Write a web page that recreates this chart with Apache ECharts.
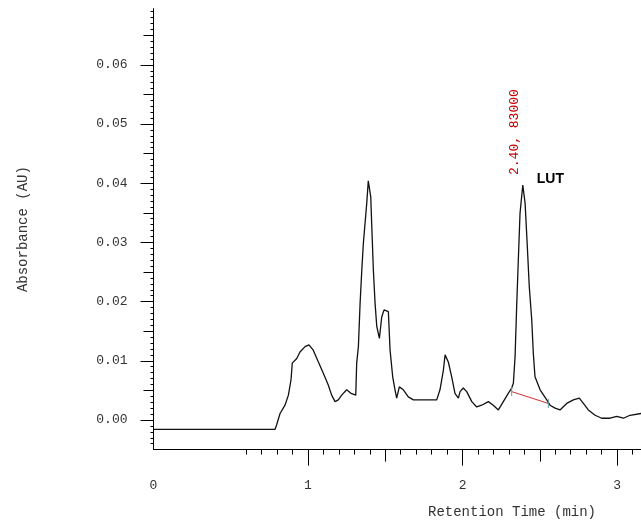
<!DOCTYPE html>
<html>
<head>
    <meta charset="utf-8">
    <title>Chromatogram</title>
    <script src="https://cdn.jsdelivr.net/npm/echarts@6/dist/echarts.min.js"></script>
    <style>
        html, body { margin: 0; padding: 0; background: #fff; }
    </style>
</head>
<body>
    <div id="main" style="width: 641px;height:522px;"></div>
    <script type="text/javascript">
        // retention time (min) and absorbance (AU)
        var retTime = [0, 0.786, 0.797, 0.819, 0.851, 0.873, 0.890, 0.898, 0.927, 0.948, 0.981, 1.006,
            1.034, 1.067, 1.099, 1.131, 1.153, 1.175, 1.196, 1.218, 1.250, 1.278, 1.309, 1.315, 1.326,
            1.337, 1.348, 1.358, 1.369, 1.380, 1.390, 1.406, 1.412, 1.423, 1.434, 1.445, 1.462, 1.477,
            1.492, 1.520, 1.531, 1.548, 1.563, 1.574, 1.591, 1.617, 1.649, 1.682, 1.833, 1.854, 1.876,
            1.887, 1.908, 1.930, 1.951, 1.973, 1.984, 2.005, 2.027, 2.060, 2.092, 2.124, 2.167, 2.199,
            2.232, 2.264, 2.296, 2.318, 2.329, 2.340, 2.351, 2.361, 2.372, 2.390, 2.405, 2.416, 2.432,
            2.448, 2.458, 2.469, 2.502, 2.545, 2.566, 2.599, 2.631, 2.674, 2.717, 2.756, 2.782, 2.814,
            2.858, 2.901, 2.955, 2.998, 3.041, 3.084, 3.155];
        var absorbance = [-0.0016, -0.0016, -0.0008, 0.0011, 0.0025, 0.0042, 0.0068, 0.0096, 0.0104, 0.0115, 0.0124, 0.0127,
            0.0118, 0.0098, 0.0079, 0.0059, 0.0042, 0.0031, 0.0034, 0.0042, 0.0051, 0.0045, 0.0042, 0.0096, 0.0124,
            0.0197, 0.0253, 0.0298, 0.0332, 0.0366, 0.0404, 0.0377, 0.0332, 0.0253, 0.0197, 0.0158, 0.0138, 0.0174,
            0.0186, 0.0183, 0.0118, 0.0073, 0.0051, 0.0037, 0.0056, 0.0051, 0.0039, 0.0034, 0.0034, 0.0051, 0.0084,
            0.0110, 0.0098, 0.0073, 0.0045, 0.0037, 0.0048, 0.0054, 0.0048, 0.0031, 0.0022, 0.0025, 0.0031, 0.0025,
            0.0017, 0.0031, 0.0045, 0.0054, 0.0062, 0.0107, 0.0197, 0.0270, 0.0349, 0.0397, 0.0366, 0.0310, 0.0225,
            0.0169, 0.0113, 0.0073, 0.0051, 0.0034, 0.0025, 0.0020, 0.0017, 0.0028, 0.0034, 0.0037, 0.0028, 0.0017,
            0.0008, 0.0003, 0.0003, 0.0006, 0.0003, 0.0008, 0.0011];

        // integration baseline under the LUT peak
        var baseTime = [2.318, 2.555];
        var baseAbs = [0.0048, 0.0028];

        var peakTime = 2.39;
        var peakAbs = 0.0397;
        var peakText = '2.40, 83000';
        var peakName = 'LUT';

        // axis ticks
        var xLabels = [0, 1, 2, 3];
        var xMajor = [1, 2, 3];
        var xHalf = [1.5, 2.5];
        var xMinor = [0.6, 0.7, 0.8, 0.9, 1.1, 1.2, 1.3, 1.4, 1.6, 1.7, 1.8, 1.9,
            2.1, 2.2, 2.3, 2.4, 2.6, 2.7, 2.8, 2.9, 3.1];
        var yLabels = [0, 0.01, 0.02, 0.03, 0.04, 0.05, 0.06];
        var yHalf = [0.005, 0.015, 0.025, 0.035, 0.045, 0.055, 0.065];
        var yMinor = [];
        for (var i = -4; i <= 69; i++) {
            if (i % 5 !== 0) yMinor.push(i / 1000);
        }

        var X_MIN = 0, X_MAX = 3.155, Y_MIN = -0.005, Y_MAX = 0.0695;
        var mono = 'Liberation Mono';

        var trace = retTime.map(function (t, k) { return [t, absorbance[k]]; });
        var base = baseTime.map(function (t, k) { return [t, baseAbs[k]]; });

        function xAx(ticks, len, labels) {
            return {
                type: 'value', min: X_MIN, max: X_MAX, position: 'bottom',
                axisLine: { show: !!labels, onZero: false, lineStyle: { color: '#000', width: 1 } },
                axisTick: { show: true, customValues: ticks, length: len, lineStyle: { color: '#000', width: 1 } },
                axisLabel: labels ? {
                    show: true, customValues: labels, margin: 29,
                    fontFamily: mono, fontSize: 13, color: '#333',
                    formatter: function (v) { return String(v); }
                } : { show: false },
                splitLine: { show: false }
            };
        }

        function yAx(ticks, len, labels) {
            var ax = {
                type: 'value', min: Y_MIN, max: Y_MAX, position: 'left',
                axisLine: { show: !!labels, onZero: false, lineStyle: { color: '#000', width: 1 } },
                axisTick: { show: true, customValues: ticks, length: len, lineStyle: { color: '#000', width: 1 } },
                axisLabel: labels ? {
                    show: true, customValues: labels, margin: 26,
                    fontFamily: mono, fontSize: 13, color: '#333',
                    formatter: function (v) { return v.toFixed(2); }
                } : { show: false },
                splitLine: { show: false }
            };
            if (labels) {
                ax.name = 'Absorbance (AU)';
                ax.nameLocation = 'middle';
                ax.nameRotate = 90;
                ax.nameGap = 123;
                ax.nameTextStyle = { fontFamily: mono, fontSize: 14, color: '#333' };
            }
            return ax;
        }

        var myChart = echarts.init(document.getElementById('main'));

        var option = {
            animation: false,
            backgroundColor: '#fff',
            grid: { left: 153.5, right: 0, top: 8.6, bottom: 72.4, containLabel: false },
            xAxis: [xAx(xMajor, 16, xLabels), xAx(xHalf, 12), xAx(xMinor, 5)],
            yAxis: [yAx(yLabels, 13, yLabels), yAx(yHalf, 10), yAx(yMinor, 3)],
            graphic: [{
                type: 'text', x: 512, y: 505,
                style: {
                    text: 'Retention Time (min)', font: '14px "Liberation Mono"',
                    fill: '#333', textAlign: 'center'
                }
            }],
            series: [
                {
                    type: 'line', data: trace, symbol: 'none', silent: true,
                    lineStyle: { color: '#111', width: 1.3 },
                    markPoint: {
                        symbol: 'circle', symbolSize: 0, silent: true,
                        data: [
                            {
                                coord: [peakTime, peakAbs],
                                label: {
                                    show: true, formatter: peakText, position: 'inside',
                                    rotate: 90, align: 'left', verticalAlign: 'middle',
                                    offset: [10, -8],
                                    fontFamily: mono, fontSize: 13, color: '#c00000'
                                }
                            },
                            {
                                coord: [peakTime, peakAbs],
                                label: {
                                    show: true, formatter: peakName, position: 'inside',
                                    align: 'left', verticalAlign: 'middle',
                                    offset: [14, -6],
                                    fontFamily: 'Liberation Sans', fontWeight: 'bold', fontSize: 14, color: '#000'
                                }
                            }
                        ]
                    }
                },
                {
                    type: 'line', data: base, symbol: 'rect', symbolSize: [1, 9],
                    showSymbol: true, silent: true,
                    itemStyle: { color: '#5a9aa0' },
                    lineStyle: { color: '#d03030', width: 1 }
                }
            ]
        };

        myChart.setOption(option);
    </script>
</body>
</html>
